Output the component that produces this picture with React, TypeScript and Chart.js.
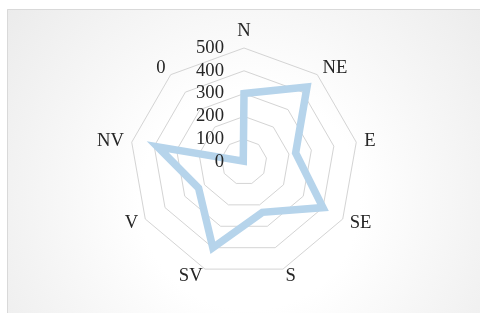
import React, { useEffect, useRef } from "react";
import { Chart, registerables } from "chart.js";

Chart.register(...registerables);

const DIRECTIONS = ["N", "NE", "E", "SE", "S", "SV", "V", "NV", "0"];
const VALUES = [300, 430, 230, 400, 235, 400, 230, 385, 5];
const TICK_VALUES = [0, 100, 200, 300, 400, 500];

const FONT_FAMILY = "'Liberation Serif', 'Times New Roman', serif";
const FONT_SIZE = 18.67;
const TEXT_COLOR = "#262626";

const backgroundPlugin = {
  id: "panelBackground",
  beforeDraw(chart: any) {
    const { ctx, width, height } = chart;
    ctx.save();
    ctx.fillStyle = "#ffffff";
    ctx.fillRect(0, 0, width, height);
    const g = ctx.createRadialGradient(250, 200, 110, 250, 200, 340);
    g.addColorStop(0, "#ffffff");
    g.addColorStop(1, "#e8e8e8");
    ctx.fillStyle = g;
    ctx.fillRect(7, 9, width - 7, height - 9);
    ctx.strokeStyle = "#d9d9d9";
    ctx.lineWidth = 1;
    ctx.beginPath();
    ctx.moveTo(7.5, height);
    ctx.lineTo(7.5, 9.5);
    ctx.lineTo(width, 9.5);
    ctx.stroke();
    ctx.restore();
  },
};

const labelsPlugin = {
  id: "radarLabels",
  afterDatasetsDraw(chart: any) {
    const scale = chart.scales.r;
    const { ctx } = chart;
    ctx.save();
    ctx.font = `${FONT_SIZE}px ${FONT_FAMILY}`;
    ctx.fillStyle = TEXT_COLOR;
    ctx.textBaseline = "middle";
    // tick labels to the left of the vertical axis
    ctx.textAlign = "right";
    for (const v of TICK_VALUES) {
      const d = scale.getDistanceFromCenterForValue(v);
      ctx.fillText(String(v), scale.xCenter - 20, scale.yCenter - d);
    }
    // point labels
    const n = DIRECTIONS.length;
    for (let i = 0; i < n; i++) {
      const pos = scale.getPointPosition(i, scale.drawingArea + 8);
      const deg = Math.round((360 * i) / n) % 360;
      let x = pos.x;
      let y = pos.y;
      if (deg === 0) {
        ctx.textAlign = "center";
        y -= FONT_SIZE / 2;
      } else if (deg === 180) {
        ctx.textAlign = "center";
        y += FONT_SIZE / 2;
      } else if (deg < 180) {
        ctx.textAlign = "left";
      } else {
        ctx.textAlign = "right";
      }
      if (deg > 150 && deg < 210) {
        const p2 = scale.getPointPosition(i, scale.drawingArea + 7);
        x = p2.x;
        y = p2.y;
      }
      ctx.fillText(DIRECTIONS[i], x, y);
    }
    ctx.restore();
  },
};

export default function App() {
  const ref = useRef<HTMLCanvasElement | null>(null);
  useEffect(() => {
    if (!ref.current) return;
    const chart = new Chart(ref.current, {
      type: "radar",
      data: {
        labels: DIRECTIONS,
        datasets: [
          {
            data: VALUES,
            borderColor: "rgb(182,212,235)",
            backgroundColor: "rgba(0,0,0,0)",
            borderWidth: 7.5,
            fill: false,
            pointRadius: 0,
            pointHoverRadius: 0,
            tension: 0,
          },
        ],
      },
      options: {
        responsive: false,
        maintainAspectRatio: false,
        animation: false,
        layout: { padding: { left: 20, right: 12, top: 48, bottom: 37 } },
        plugins: { legend: { display: false }, tooltip: { enabled: false } },
        scales: {
          r: {
            min: 0,
            max: 500,
            ticks: { stepSize: 100, display: false },
            grid: { circular: false, color: "#d4d4d4", lineWidth: 1 },
            angleLines: { display: false },
            pointLabels: { display: false },
          },
        },
      },
      plugins: [backgroundPlugin, labelsPlugin],
    });
    return () => chart.destroy();
  }, []);
  return (
    <div style={{ position: "absolute", left: 0, top: 0, width: 480, height: 313 }}>
      <canvas ref={ref} width={480} height={313} style={{ width: 480, height: 313 }} />
    </div>
  );
}
